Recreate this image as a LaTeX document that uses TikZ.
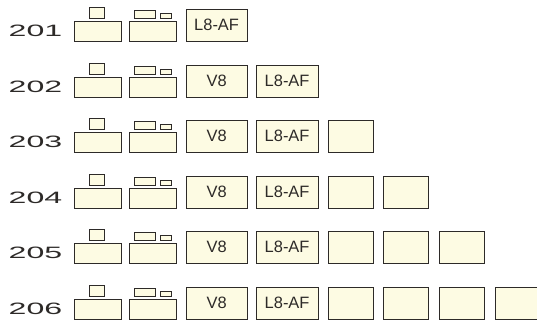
\documentclass[tikz,border=0pt]{standalone}
\usepackage{fontspec}
\setmainfont{Liberation Sans}
\definecolor{cream}{RGB}{253,251,227}
\definecolor{ink}{RGB}{45,42,40}
\begin{document}
\begin{tikzpicture}[x=1bp,y=-1bp,
  box/.style={draw=ink,fill=cream,line width=1.2bp,inner sep=0pt,anchor=north west,
    text=ink,font=\fontsize{16.5}{16.5}\selectfont},
  base/.style={box,minimum width=47bp,minimum height=20bp},
  big/.style={box,minimum width=61bp,minimum height=32bp},
  empty/.style={box,minimum width=45bp,minimum height=32bp},
  num/.style={anchor=base west,inner sep=0pt,text=ink,font=\fontsize{16.5}{16.5}\selectfont}]
\useasboundingbox[fill=white] (0,0) rectangle (537,320);
\foreach \r/\B [count=\i from 0] in {201/40.5,202/96.5,203/151.5,204/207.5,205/262.5,206/318.5} {
  \node[num] (n\r) at (8.5,\B-4) {\scalebox{1.95}[1]{\r}};
  % column 1: base with one small box on top
  \node[base] (a\r) at (73.5,\B-20) {};
  \node[box,minimum width=15bp,minimum height=11bp] (at\r) at (88.5,\B-34) {};
  % column 2: base with two small boxes
  \node[base] (b\r) at (128.5,\B-20) {};
  \node[box,minimum width=21bp,minimum height=8bp] (bs\r) at (133.5,\B-31) {};
  \node[box,minimum width=11bp,minimum height=5bp] (bt\r) at (159.5,\B-28) {};
  \ifnum\i=0
    \node[big] (l\r) at (185.5,\B-32) {L8-AF};
  \else
    \node[big] (v\r) at (185.5,\B-32) {V8};
    \node[big,minimum width=62bp] (l\r) at (255.5,\B-32) {L8-AF};
  \fi
  \ifnum\i>1
    \foreach \k/\X in {2/327.5,3/382.5,4/438.5,5/494.5} {
      \ifnum\k>\i\else
        \node[empty] (e\r-\k) at (\X,\B-32) {};
      \fi
    }
  \fi
}
\end{tikzpicture}
\end{document}
